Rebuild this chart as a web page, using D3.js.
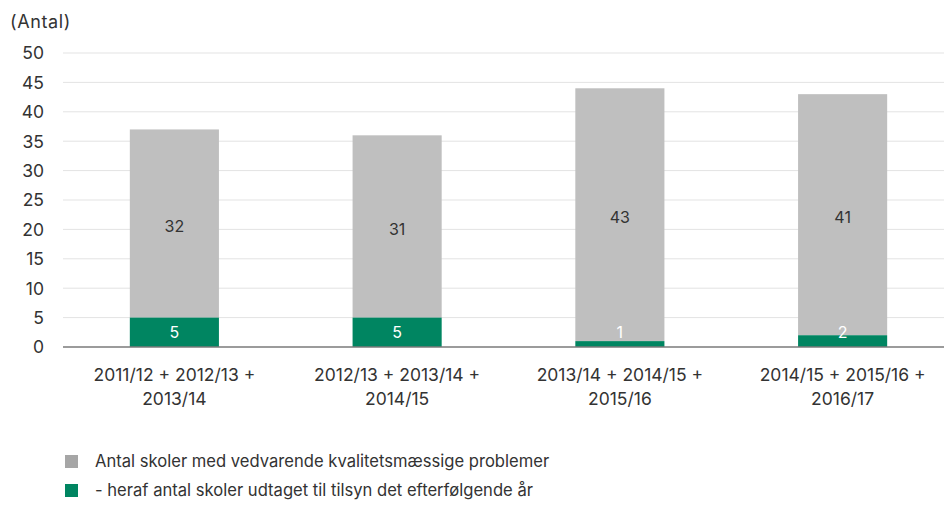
<!DOCTYPE html>
<html>
<head>
<meta charset="utf-8">
<script src="https://cdn.jsdelivr.net/npm/d3@7"></script>
<style>
  body { margin: 0; background: #fff; }
  text { font-family: Inter, "Noto Sans", sans-serif; fill: #333; }
</style>
</head>
<body>
<div id="chart"></div>
<script>
// data
const categories = [
  ["2011/12 + 2012/13 +", "2013/14"],
  ["2012/13 + 2013/14 +", "2014/15"],
  ["2013/14 + 2014/15 +", "2015/16"],
  ["2014/15 + 2015/16 +", "2016/17"]
];
const tilsyn = [5, 5, 1, 2];        // green, bottom
const problemer = [32, 31, 43, 41]; // gray, on top
const yTicks = [0, 5, 10, 15, 20, 25, 30, 35, 40, 45, 50];
const legendLabels = [
  "Antal skoler med vedvarende kvalitetsmæssige problemer",
  "- heraf antal skoler udtaget til tilsyn det efterfølgende år"
];

const W = 944, H = 506;
const grey = "#bfbfbf", green = "#008561";

const svg = d3.select("#chart").append("svg")
  .attr("width", W).attr("height", H);

const x = d3.scaleBand()
  .domain(d3.range(categories.length))
  .range([63, 954])
  .paddingInner(0.6)
  .paddingOuter(0.3);

const y = d3.scaleLinear().domain([0, 50]).range([347, 53]);

// gridlines
svg.append("g").selectAll("line")
  .data(yTicks.filter(d => d > 0))
  .enter().append("line")
  .attr("x1", 63).attr("x2", W)
  .attr("y1", d => y(d)).attr("y2", d => y(d))
  .attr("stroke", "#e3e3e3").attr("stroke-width", 1);

// y labels
svg.append("g").selectAll("text")
  .data(yTicks)
  .enter().append("text")
  .attr("x", 44).attr("y", d => y(d))
  .attr("dy", "0.36em")
  .attr("text-anchor", "end")
  .attr("font-size", 17.5)
  .text(d => d);

svg.append("text")
  .attr("x", 10).attr("y", 28)
  .attr("font-size", 18)
  .style("letter-spacing", "0.6px")
  .text("(Antal)");

// stacked bars
const stacks = categories.map((c, i) => ({
  i: i,
  g0: 0, g1: tilsyn[i],
  p0: tilsyn[i], p1: tilsyn[i] + problemer[i]
}));

const bars = svg.append("g");
bars.selectAll(".p").data(stacks).enter().append("rect")
  .attr("x", d => x(d.i)).attr("width", x.bandwidth())
  .attr("y", d => y(d.p1)).attr("height", d => y(d.p0) - y(d.p1))
  .attr("fill", grey);
bars.selectAll(".g").data(stacks).enter().append("rect")
  .attr("x", d => x(d.i)).attr("width", x.bandwidth())
  .attr("y", d => y(d.g1)).attr("height", d => y(d.g0) - y(d.g1))
  .attr("fill", green);

// zero axis
svg.append("line")
  .attr("x1", 63).attr("x2", W)
  .attr("y1", y(0)).attr("y2", y(0))
  .attr("stroke", "#7a7a7a").attr("stroke-width", 1.5);

// value labels
svg.append("g").selectAll("text").data(stacks).enter().append("text")
  .attr("x", d => x(d.i) + x.bandwidth() / 2)
  .attr("y", d => y((d.p0 + d.p1) / 2) + 3)
  .attr("dy", "0.36em")
  .attr("text-anchor", "middle")
  .attr("font-size", 16)
  .text((d) => problemer[d.i]);

svg.append("g").selectAll("text").data(stacks).enter().append("text")
  .attr("x", d => x(d.i) + x.bandwidth() / 2)
  .attr("y", d => Math.min(y((d.g0 + d.g1) / 2), y(0) - 15))
  .attr("dy", "0.36em")
  .attr("text-anchor", "middle")
  .attr("font-size", 16)
  .style("fill", "#fff")
  .text(d => tilsyn[d.i]);

// x labels
const xl = svg.append("g").selectAll("text").data(categories).enter().append("text")
  .attr("x", (d, i) => x(i) + x.bandwidth() / 2)
  .attr("y", 381)
  .attr("text-anchor", "middle")
  .attr("font-size", 17.5);
xl.append("tspan").attr("x", (d, i) => x(i) + x.bandwidth() / 2).text(d => d[0]);
xl.append("tspan").attr("x", (d, i) => x(i) + x.bandwidth() / 2).attr("dy", 24).text(d => d[1]);

// legend
const legendColors = ["#a6a6a6", green];
const lg = svg.append("g").selectAll("g").data(legendLabels).enter().append("g")
  .attr("transform", (d, i) => `translate(65,${455 + i * 29})`);
lg.append("rect").attr("width", 13).attr("height", 13)
  .attr("fill", (d, i) => legendColors[i]);
lg.append("text").attr("x", 30).attr("y", 6.5).attr("dy", "0.36em")
  .attr("font-size", 16.6).text(d => d);
</script>
</body>
</html>
